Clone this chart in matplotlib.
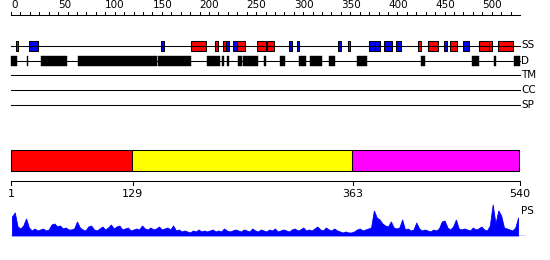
import matplotlib
matplotlib.use("Agg")
import matplotlib.pyplot as plt
from matplotlib.patches import Rectangle

# ---------------- data ----------------
seq_len = 540
ruler_major = [0, 50, 100, 150, 200, 250, 300, 350, 400, 450, 500]
ruler_minor = list(range(0, 531, 10))

# secondary structure: (start, end, type) H = helix (red), E = strand (blue)
ss_starts = [5, 19, 159, 191, 216, 225, 228, 235, 240, 261, 272, 295, 303, 347, 358,
             380, 386, 396, 408, 432, 442, 459, 466, 479, 497, 507, 517]
ss_ends   = [7, 29, 162, 207, 220, 228, 231, 240, 248, 270, 279, 298, 306, 350, 360,
             386, 392, 404, 414, 435, 453, 463, 473, 486, 507, 510, 533]
ss_types  = ["H", "E", "E", "H", "H", "H", "E", "E", "H", "H", "H", "E", "E", "E", "H",
             "E", "E", "E", "E", "H", "H", "E", "H", "E", "H", "H", "H"]

# disorder segments
d_starts = [0, 17, 32, 71, 156, 208, 224, 229, 241, 246, 268, 285, 306, 317, 337,
            367, 435, 489, 512, 534]
d_ends   = [6, 17.6, 59, 155, 191, 222, 226, 231, 245, 262, 271, 291, 313, 330, 344,
            378, 439, 497, 515, 540]

track_labels = ["SS", "D", "TM", "CC", "SP"]

# domains
dom_bounds = [1, 129, 363, 540]
dom_colors = ["#ff0000", "#ffff00", "#ff00ff"]
dom_ticks = [1, 129, 363, 540]

# PS profile (sampled every 3 residues starting at 1)
ps_pos = list(range(1, 540, 3))
ps_val = [19, 23, 9, 7, 10, 17, 8, 5, 7, 5,
          6, 7, 5, 6, 11, 12, 9, 10, 7, 8,
          6, 6, 7, 14, 8, 6, 5, 9, 10, 6,
          5, 7, 9, 6, 8, 11, 7, 9, 10, 6,
          7, 8, 5, 6, 7, 6, 10, 7, 6, 8,
          6, 7, 9, 6, 7, 8, 6, 10, 5, 6,
          4, 5, 4, 3, 5, 4, 6, 4, 5, 4,
          5, 6, 4, 5, 4, 7, 5, 4, 5, 6,
          5, 4, 6, 5, 4, 7, 5, 4, 6, 5,
          4, 6, 5, 7, 4, 5, 6, 5, 4, 6,
          7, 5, 6, 8, 5, 6, 5, 7, 9, 6,
          5, 8, 6, 5, 7, 5, 4, 3, 4, 3,
          3, 4, 6, 7, 5, 6, 7, 8, 25, 18,
          16, 12, 10, 9, 14, 8, 7, 8, 16, 6,
          7, 5, 6, 13, 7, 5, 6, 5, 4, 6,
          5, 7, 14, 15, 8, 6, 9, 16, 7, 6,
          7, 6, 5, 8, 6, 7, 9, 6, 5, 10,
          31, 12, 25, 20, 8, 7, 6, 5, 8, 18]

# ---------------- layout ----------------
W, H = 550, 260
PX0, PX1 = 11.0, 520.0
scale = (PX1 - PX0) / seq_len
X0 = -PX0 / scale
X1 = (W - PX0) / scale

fig = plt.figure(figsize=(W / 100, H / 100), dpi=100)
ax = fig.add_axes([0, 0, 1, 1])
ax.set_xlim(X0, X1)
ax.set_ylim(H, 0)
ax.axis("off")

lw = 0.75
fs = 7.5

# top ruler
ax.plot([0, seq_len], [15, 15], color="black", lw=lw)
for t in ruler_minor:
    ax.plot([t, t], [12, 15], color="black", lw=lw)
for t in ruler_major:
    ax.text(t, 10, str(t), ha="left", va="bottom", fontsize=fs, color="black")

# track lines
row_y = [45.5, 60.5, 75, 90, 105]
for y, lab in zip(row_y, track_labels):
    ax.plot([0, seq_len], [y, y], color="black", lw=lw)
    ax.text(seq_len + 1, y, lab, ha="left", va="center", fontsize=fs)

# SS boxes
for s, e, t in zip(ss_starts, ss_ends, ss_types):
    c = "#ff0000" if t == "H" else "#0000ff"
    ax.add_patch(Rectangle((s, 40.5), e - s, 10, facecolor=c, edgecolor="black", lw=lw))

# disorder boxes
for s, e in zip(d_starts, d_ends):
    ax.add_patch(Rectangle((s, 55.5), e - s, 10, facecolor="black", edgecolor="black", lw=0.3))

# domain bar
for i in range(len(dom_colors)):
    s, e = dom_bounds[i], dom_bounds[i + 1]
    ax.add_patch(Rectangle((s - 1, 150), e - s + (1 if i == 0 else 0), 20.5,
                           facecolor=dom_colors[i], edgecolor="black", lw=lw))

# bottom ruler
ax.plot([0, seq_len], [181, 181], color="black", lw=lw)
for t in dom_ticks:
    ax.plot([t - 1 if t == 1 else t, t - 1 if t == 1 else t], [181, 185], color="black", lw=lw)
    ax.text(t - 1 if t == 1 else t, 189, str(t), ha="center", va="top", fontsize=8)

ax.text(seq_len + 1, 211, "PS", ha="left", va="center", fontsize=fs)

# PS profile panel
ps_bottom_px, ps_top_px = 235.5, 200.0
ax2 = fig.add_axes([0, (H - ps_bottom_px) / H, 1, (ps_bottom_px - ps_top_px) / H])
ax2.set_xlim(X0, X1)
ax2.set_ylim(0, 35.5)
ax2.axis("off")
ax2.fill_between(ps_pos, 0, ps_val, color="#0000ff", lw=0.6)
ax2.plot([0, seq_len + 5], [0, 0], color="#0000ff", lw=1)

fig.savefig("out.png", dpi=100)
